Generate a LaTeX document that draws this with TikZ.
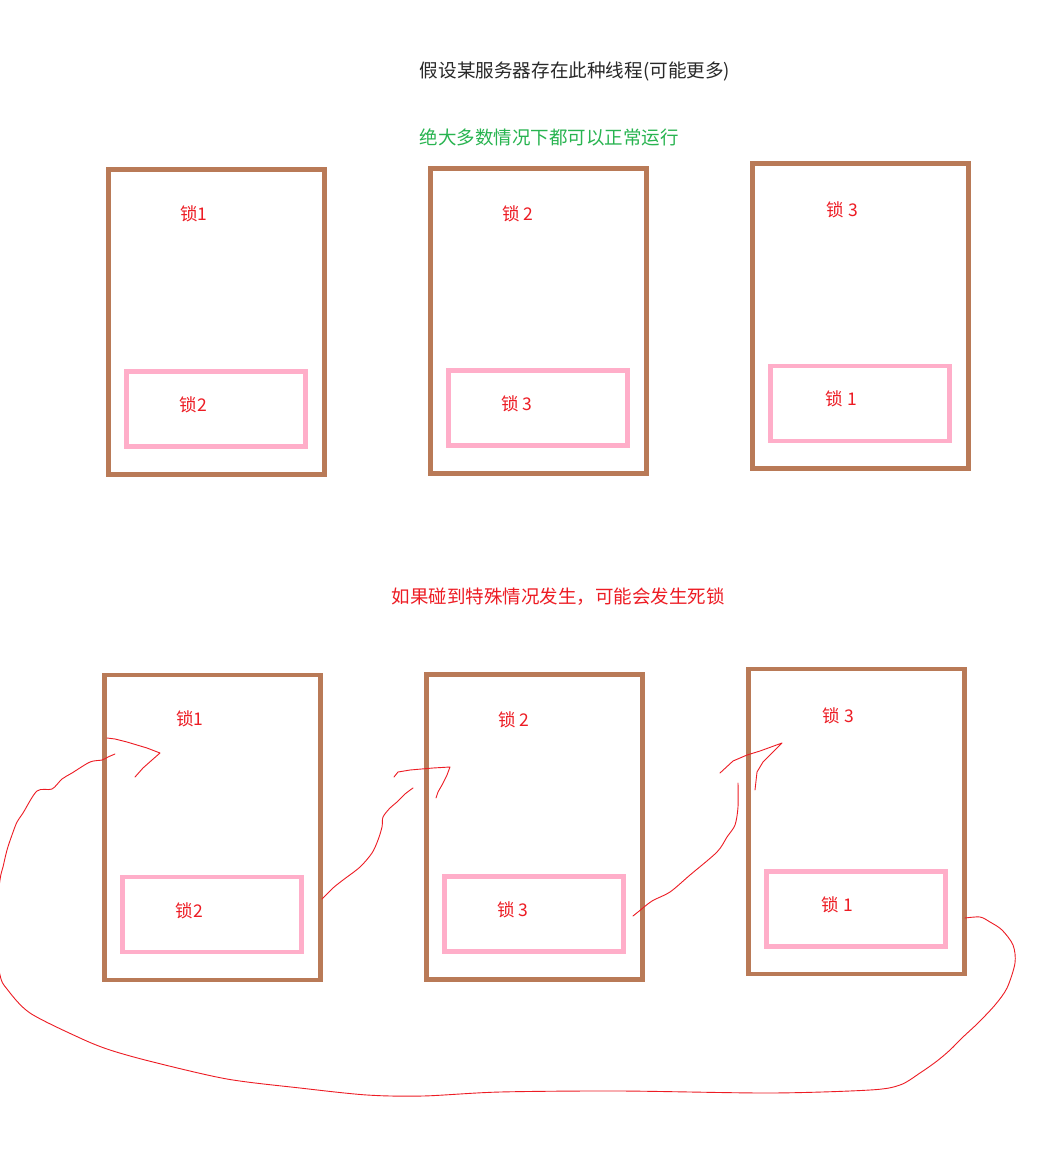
\documentclass[tikz,border=0pt]{standalone}
\usepackage{fontspec}
\setmainfont{Noto Sans CJK SC}
\usetikzlibrary{positioning}
\definecolor{ThreadBrown}{RGB}{185,122,87}
\definecolor{LockPink}{RGB}{255,174,201}
\definecolor{LockRed}{RGB}{237,28,36}
\definecolor{NoteGreen}{RGB}{40,180,80}
\definecolor{NoteGray}{RGB}{40,40,40}

\begin{document}
\begin{tikzpicture}[x=1pt,y=-1pt,
  thread/.style={draw=ThreadBrown, line width=4.5pt, minimum width=216pt, minimum height=305pt, inner sep=0pt},
  held/.style={draw=LockPink, line width=4.5pt, minimum width=179pt, minimum height=75pt, inner sep=0pt},
  lock/.style={text=LockRed, font=\fontsize{17.5}{18}\selectfont, inner sep=0pt},
  wait/.style={LockRed, line width=0.9pt, line join=round, line cap=round}]
  \fill[white] (0,0) rectangle (1060,1166);
  \useasboundingbox (0,0) rectangle (1060,1166);

  % headings
  \node[text=NoteGray, font=\fontsize{18.6}{19}\selectfont, inner sep=0pt] (title) at (575,71) {假设某服务器存在此种线程(可能更多)};
  \node[text=NoteGreen, font=\fontsize{18.5}{19}\selectfont, inner sep=0pt] (normal) at (549,137.5) {绝大多数情况下都可以正常运行};
  \node[text=LockRed, font=\fontsize{18.5}{19}\selectfont, inner sep=0pt] (danger) at (558,596.5) {如果碰到特殊情况发生，可能会发生死锁};

  % normal case
  \node[thread] (top1) at (216.5,322) {};
  \node[held] (topheld1) at (216,409) {};
  \node[lock] (toplock1) at (194,213.5) {锁1};
  \node[lock] (topwant1) at (193.5,404.5) {锁2};

  \node[thread] (top2) at (538.5,321) {};
  \node[held] (topheld2) at (538,408) {};
  \node[lock] (toplock2) at (518,214) {锁 2};
  \node[lock] (topwant2) at (517,404) {锁 3};

  \node[thread] (top3) at (860.5,316) {};
  \node[held] (topheld3) at (860,403.5) {};
  \node[lock] (toplock3) at (842.5,210) {锁 3};
  \node[lock] (topwant3) at (841.5,399) {锁 1};

  % deadlock case
  \node[thread] (bot1) at (212.5,827.5) {};
  \node[held] (botheld1) at (212,914.5) {};
  \node[lock] (botlock1) at (190,719) {锁1};
  \node[lock] (botwant1) at (189.5,911) {锁2};

  \node[thread] (bot2) at (534.5,827) {};
  \node[held] (botheld2) at (534,914) {};
  \node[lock] (botlock2) at (514,720) {锁 2};
  \node[lock] (botwant2) at (513,910) {锁 3};

  \node[thread] (bot3) at (856.5,821.5) {};
  \node[held] (botheld3) at (856,909) {};
  \node[lock] (botlock3) at (838.5,716) {锁 3};
  \node[lock] (botwant3) at (837.5,905) {锁 1};

  % hand drawn waiting arrows
  \coordinate (wait1) at (322,899);
  \coordinate (wait2) at (633,916);
  \coordinate (wait3) at (965,918);

  \draw[wait] plot[smooth, tension=0.5] coordinates {(wait1) (333,888) (343,880) (360,867) (372,853) (378,840) (382,827) (383,817) (390,808) (397,802) (405,794) (413,788)};
  \draw[wait] (394,777) -- (398,772) -- (410,770) -- (433,768) -- (450,767) -- (447,775) -- (442,785) -- (438,792) -- (436,798);

  \draw[wait] plot[smooth, tension=0.5] coordinates {(wait2) (638,912) (652,901) (670,892) (690,875) (717,852) (727,837) (735,825) (738,807) (738,783)};
  \draw[wait] (720,773) -- (733,761) -- (747,755) -- (760,751) -- (782,743) -- (773,752) -- (763,762) -- (757,772) -- (755,790);

  \draw[wait] plot[smooth, tension=0.5] coordinates {(wait3) (980,917) (990,922) (1002,930) (1013,945) (1015,963) (1007,988) (995,1005) (978,1023) (963,1037) (950,1050) (937,1061) (920,1073) (900,1085) (870,1090) (770,1093) (620,1091) (500,1092) (423,1096) (367,1095) (300,1088) (227,1079) (153,1062) (110,1050) (80,1038) (30,1013) (7,989) (0,975) (-6,930) (0,880) (3,867) (7,850) (12,835) (17,822) (23,813) (37,791) (52,789) (62,779) (72,773) (90,762) (102,760) (108,757) (115,754)};
  \draw[wait] (107,738) -- (115,739) -- (127,742) -- (137,745) -- (147,748) -- (160,753) -- (152,760) -- (143,768) -- (135,777);
\end{tikzpicture}
\end{document}
